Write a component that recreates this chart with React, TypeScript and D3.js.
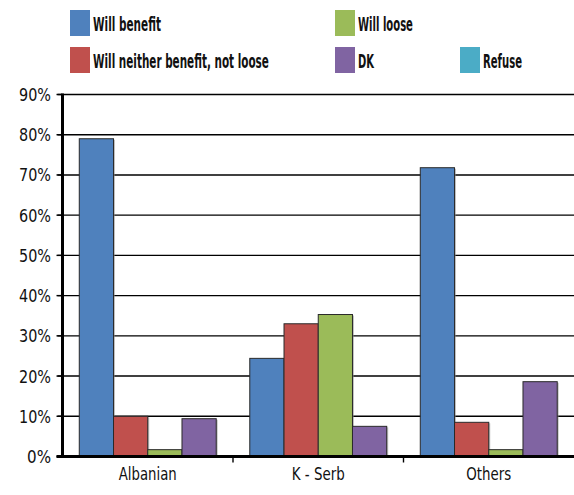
import React, { useLayoutEffect, useRef, useState } from "react";
import * as d3 from "d3";

const categories = ["Albanian", "K - Serb", "Others"];
const seriesNames = ["Will benefit", "Will neither benefit, not loose", "Will loose", "DK", "Refuse"];
const seriesColors = ["#4F81BD", "#C0504D", "#9BBB59", "#8064A2", "#4BACC6"];
const willBenefit = [79, 24.4, 71.8];
const willNeither = [10, 33, 8.5];
const willLoose = [1.7, 35.3, 1.7];
const dk = [9.4, 7.5, 18.6];
const refuse: (number | null)[] = [null, null, null];
const yTicks = [0, 10, 20, 30, 40, 50, 60, 70, 80, 90];

const seriesValues = [willBenefit, willNeither, willLoose, dk, refuse];

const W = 574;
const H = 495;
const left = 62.5;
const right = 574;
const top = 94.5;
const bottom = 456.5;
const FONT = "'Liberation Sans Narrow', 'DejaVu Sans Condensed', 'Arial Narrow', sans-serif";

const legendItems = [
  { i: 0, x: 70, y: 10, tl: 68 },
  { i: 2, x: 335, y: 10, tl: 55 },
  { i: 1, x: 70, y: 47, tl: 176 },
  { i: 3, x: 335, y: 47, tl: 16 },
  { i: 4, x: 460, y: 47, tl: 39 },
];

const catLabelWidth = [58, 53, 45];

function ScaledText(props: {
  x: number;
  y: number;
  width: number;
  anchor?: "start" | "middle" | "end";
  fontSize: number;
  bold?: boolean;
  children: string;
}) {
  const ref = useRef<SVGTextElement>(null);
  const [s, setS] = useState(1);
  useLayoutEffect(() => {
    if (ref.current) {
      const w = ref.current.getComputedTextLength();
      if (w > 0) setS(props.width / w);
    }
  }, [props.width, props.children]);
  return (
    <text
      ref={ref}
      transform={`translate(${props.x},${props.y}) scale(${s},1)`}
      textAnchor={props.anchor || "start"}
      fontSize={props.fontSize}
      fontWeight={props.bold ? "bold" : "normal"}
      fill="#111"
    >
      {props.children}
    </text>
  );
}

export default function App() {
  const x0 = d3.scaleBand<string>().domain(categories).range([left, right]).paddingInner(0).paddingOuter(0);
  const drawn = seriesNames
    .map((n, i) => i)
    .filter((i) => seriesValues[i].some((v) => v !== null));
  const x1 = d3
    .scaleBand<number>()
    .domain(drawn)
    .range([0, x0.bandwidth()])
    .paddingInner(0)
    .paddingOuter(0.49);
  const y = d3.scaleLinear().domain([0, 90]).range([bottom, top]);

  return (
    <svg
      width={W}
      height={H}
      style={{ position: "fixed", left: 0, top: 0, background: "#fff" }}
      fontFamily={FONT}
    >
      <rect x={0} y={0} width={W} height={H} fill="#fff" />
      {yTicks.slice(1).map((t) => (
        <line key={t} x1={left - 5} x2={right} y1={y(t)} y2={y(t)} stroke="#000" strokeWidth={1.4} />
      ))}
      {categories.map((c, ci) =>
        drawn.map((si) => {
          const v = seriesValues[si][ci];
          if (v === null) return null;
          const bx = (x0(c) as number) + (x1(si) as number);
          const bw = x1.bandwidth();
          return (
            <g key={c + si}>
              <rect x={bx + 1.5} y={y(v) + 1} width={bw} height={bottom - y(v) - 1} fill="#888" opacity={0.5} />
              <rect
                x={bx}
                y={y(v)}
                width={bw}
                height={bottom - y(v)}
                fill={seriesColors[si]}
                stroke="#2a2a2a"
                strokeWidth={1}
              />
            </g>
          );
        })
      )}
      <line x1={left} x2={left} y1={top - 1} y2={bottom + 1} stroke="#000" strokeWidth={3} />
      <line x1={left - 6} x2={right} y1={bottom} y2={bottom} stroke="#000" strokeWidth={3} />
      {yTicks.map((t) => (
        <line key={"t" + t} x1={left - 6} x2={left} y1={y(t)} y2={y(t)} stroke="#000" strokeWidth={1.4} />
      ))}
      {categories.map((c, ci) => {
        const xx = (x0(c) as number) + x0.bandwidth();
        return ci < categories.length - 1 ? (
          <line key={"ct" + c} x1={xx} x2={xx} y1={bottom} y2={bottom + 6} stroke="#000" strokeWidth={1.4} />
        ) : null;
      })}
      {yTicks.map((t) => (
        <ScaledText key={"l" + t} x={51} y={y(t) + 6.5} anchor="end" fontSize={18} width={t === 0 ? 24 : 32}>
          {`${t}%`}
        </ScaledText>
      ))}
      {categories.map((c, ci) => (
        <ScaledText
          key={"xl" + c}
          x={(x0(c) as number) + x0.bandwidth() / 2}
          y={480}
          anchor="middle"
          fontSize={18}
          width={catLabelWidth[ci]}
        >
          {c}
        </ScaledText>
      ))}
      {legendItems.map((it) => (
        <g key={"lg" + it.i}>
          <rect x={it.x} y={it.y} width={20} height={26} fill={seriesColors[it.i]} />
          <ScaledText x={it.x + 23} y={it.y + 20.5} fontSize={19.5} bold width={it.tl}>
            {seriesNames[it.i]}
          </ScaledText>
        </g>
      ))}
    </svg>
  );
}
